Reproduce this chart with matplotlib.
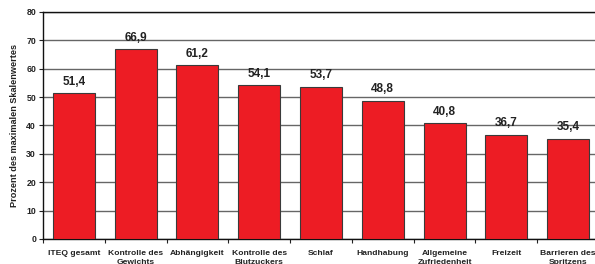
import matplotlib.pyplot as plt
import numpy as np

plt.rcParams["font.family"] = ["Liberation Sans", "DejaVu Sans"]
plt.rcParams["font.weight"] = "bold"

categories = [
    "ITEQ gesamt",
    "Kontrolle des\nGewichts",
    "Abhängigkeit",
    "Kontrolle des\nBlutzuckers",
    "Schlaf",
    "Handhabung",
    "Allgemeine\nZufriedenheit",
    "Freizeit",
    "Barrieren des\nSpritzens",
]
values = [51.4, 66.9, 61.2, 54.1, 53.7, 48.8, 40.8, 36.7, 35.4]
yticks = [0, 10, 20, 30, 40, 50, 60, 70, 80]

fig = plt.figure(figsize=(5.95, 2.64), dpi=100)
ax = fig.add_axes([43 / 595, 1 - 239 / 264, 556 / 595, 227 / 264])

x = np.arange(len(categories))
ax.bar(x, values, width=0.68, color="#ED1C24", edgecolor="#3a3a3a", linewidth=0.8, zorder=3)

for xi, v in zip(x, values):
    ax.annotate(f"{v:.1f}".replace(".", ","), (xi, v), xytext=(0, 4), textcoords="offset points",
                ha="center", va="bottom", fontsize=8.5, fontweight="bold", color="#222222")

ax.set_xlim(-0.5, len(categories) - 0.5)
ax.set_ylim(0, 80)
ax.set_yticks(yticks)
ax.tick_params(axis="y", labelsize=6.3, length=3, width=0.8, pad=2, colors="#222222")
ax.set_xticks(x)
ax.set_xticklabels(categories, fontsize=6.1, fontweight="bold", linespacing=1.3)
ax.set_xticks(np.arange(len(categories) + 1) - 0.5, minor=True)
ax.tick_params(axis="x", which="major", length=0, pad=8, colors="#222222")
ax.tick_params(axis="x", which="minor", length=3, width=0.8, color="#222222")
ax.grid(axis="y", color="#666666", linewidth=1.0, zorder=0)
ax.spines["right"].set_visible(False)
for side in ["left", "bottom", "top"]:
    ax.spines[side].set_linewidth(1.0)
    ax.spines[side].set_color("#111111")

ax.set_ylabel("Prozent des maximalen Skalenwertes", fontsize=6.6, fontweight="bold",
              color="#222222", labelpad=5)

fig.savefig("out.png", dpi=100)
